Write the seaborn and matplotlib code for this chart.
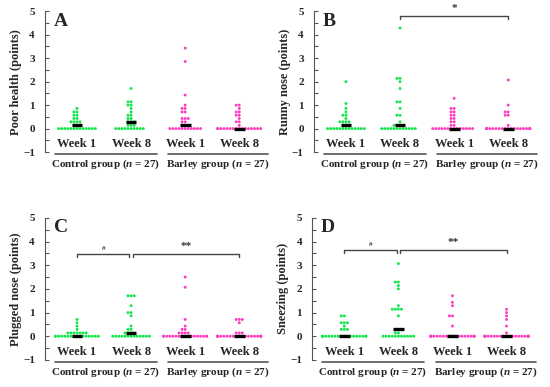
import numpy as np
import pandas as pd
import matplotlib
matplotlib.use("Agg")
import matplotlib.pyplot as plt
import seaborn as sns

sns.set_style("white")
plt.rcParams["font.family"] = ["Liberation Serif", "DejaVu Serif"]
plt.rcParams["font.weight"] = "bold"
plt.rcParams["mathtext.fontset"] = "custom"
plt.rcParams["mathtext.it"] = "Liberation Serif:italic:bold"
plt.rcParams["mathtext.rm"] = "Liberation Serif:bold"

# scores per subject (points); n = 27 per column
# A: poor health
a_ctrl_w1 = [0, 0, 0, 0, 0, 0, 0, 0, 0, 0, 0, 0, 0, 0.14, 0.14, 0.14, 0.29, 0.29, 0.29, 0.29,
             0.43, 0.43, 0.57, 0.57, 0.71, 0.71, 0.86]
a_ctrl_w8 = [0, 0, 0, 0, 0, 0, 0, 0, 0, 0, 0.14, 0.14, 0.14, 0.29, 0.29, 0.29, 0.43, 0.43,
             0.57, 0.57, 0.71, 0.86, 1.0, 1.0, 1.14, 1.14, 1.71]
a_barl_w1 = [0, 0, 0, 0, 0, 0, 0, 0, 0, 0, 0, 0.14, 0.14, 0.14, 0.29, 0.29, 0.43, 0.43, 0.43,
             0.71, 0.71, 0.86, 0.86, 1.0, 1.43, 2.86, 3.43]
a_barl_w8 = [0, 0, 0, 0, 0, 0, 0, 0, 0, 0, 0, 0, 0, 0, 0, 0, 0.14, 0.29, 0.29, 0.43,
             0.57, 0.57, 0.71, 0.71, 0.86, 1.0, 1.0]
# B: runny nose
b_ctrl_w1 = [0, 0, 0, 0, 0, 0, 0, 0, 0, 0, 0, 0, 0, 0.14, 0.14, 0.14, 0.29, 0.29, 0.29, 0.29,
             0.43, 0.57, 0.57, 0.71, 0.86, 1.07, 2.0]
b_ctrl_w8 = [0, 0, 0, 0, 0, 0, 0, 0, 0, 0, 0, 0, 0.14, 0.14, 0.14, 0.14, 0.29, 0.57, 0.57,
             0.86, 1.14, 1.14, 1.71, 2.0, 2.14, 2.14, 4.29]
b_barl_w1 = [0, 0, 0, 0, 0, 0, 0, 0, 0, 0, 0, 0, 0, 0, 0.14, 0.14, 0.29, 0.29, 0.43, 0.43,
             0.57, 0.57, 0.71, 0.71, 0.86, 0.86, 1.29]
b_barl_w8 = [0, 0, 0, 0, 0, 0, 0, 0, 0, 0, 0, 0, 0, 0, 0, 0, 0, 0, 0, 0, 0.14,
             0.57, 0.57, 0.71, 0.71, 1.0, 2.07]
# C: plugged nose
c_ctrl_w1 = [0, 0, 0, 0, 0, 0, 0, 0, 0, 0, 0, 0, 0, 0, 0, 0, 0.14, 0.14, 0.14, 0.14, 0.14,
             0.14, 0.14, 0.29, 0.43, 0.57, 0.71]
c_ctrl_w8 = [0, 0, 0, 0, 0, 0, 0, 0, 0, 0, 0, 0, 0, 0.14, 0.14, 0.14, 0.14, 0.29, 0.29,
             0.43, 0.86, 1.0, 1.0, 1.29, 1.71, 1.71, 1.71]
c_barl_w1 = [0, 0, 0, 0, 0, 0, 0, 0, 0, 0, 0, 0, 0, 0, 0, 0, 0, 0.14, 0.14, 0.14, 0.14,
             0.29, 0.29, 0.43, 0.71, 2.07, 2.5]
c_barl_w8 = [0, 0, 0, 0, 0, 0, 0, 0, 0, 0, 0, 0, 0, 0, 0, 0, 0, 0, 0, 0, 0.14, 0.14,
             0.57, 0.71, 0.71, 0.71, 0.14]
# D: sneezing
d_ctrl_w1 = [0, 0, 0, 0, 0, 0, 0, 0, 0, 0, 0, 0, 0, 0, 0, 0, 0, 0, 0.29, 0.29, 0.29, 0.43,
             0.57, 0.57, 0.57, 0.86, 0.86]
d_ctrl_w8 = [0, 0, 0, 0, 0, 0, 0, 0, 0, 0, 0, 0.14, 0.14, 0.29, 0.29, 0.29, 0.86, 1.14,
             1.14, 1.14, 1.14, 1.29, 2.0, 2.14, 2.29, 2.29, 3.07]
d_barl_w1 = [0, 0, 0, 0, 0, 0, 0, 0, 0, 0, 0, 0, 0, 0, 0, 0, 0, 0, 0, 0, 0, 0.43, 0.86,
             0.86, 1.29, 1.43, 1.71]
d_barl_w8 = [0, 0, 0, 0, 0, 0, 0, 0, 0, 0, 0, 0, 0, 0, 0, 0, 0, 0, 0, 0, 0, 0.14, 0.43,
             0.71, 0.86, 1.0, 1.14]

columns = ["ctrl_w1", "ctrl_w8", "barl_w1", "barl_w8"]
week_labels = ["Week 1", "Week 8", "Week 1", "Week 8"]
group_labels = ["Control group ($\\mathit{n}$ = 27)", "Barley group ($\\mathit{n}$ = 27)"]
palette = {"control": "#12e64a", "barley": "#ff3cc0"}

panels = [
    ("A", "Poor health (points)", [a_ctrl_w1, a_ctrl_w8, a_barl_w1, a_barl_w8], []),
    ("B", "Runny nose (points)", [b_ctrl_w1, b_ctrl_w8, b_barl_w1, b_barl_w8],
     [(1, 3, 4.8, "*")]),
    ("C", "Plugged nose (points)", [c_ctrl_w1, c_ctrl_w8, c_barl_w1, c_barl_w8],
     [(0, 0.97, 3.48, "#"), (1.03, 3, 3.48, "**")]),
    ("D", "Sneezing (points)", [d_ctrl_w1, d_ctrl_w8, d_barl_w1, d_barl_w8],
     [(0, 0.97, 3.65, "#"), (1.03, 3, 3.65, "**")]),
]

positions = [[0.081, 0.607, 0.413, 0.364], [0.570, 0.607, 0.413, 0.364],
             [0.081, 0.070, 0.413, 0.367], [0.567, 0.070, 0.413, 0.367]]

fig = plt.figure(figsize=(5.5, 3.87), dpi=100)

for (letter, ylabel, series, brackets), pos in zip(panels, positions):
    ax = fig.add_axes(pos)
    rows = []
    for col, vals in zip(columns, series):
        grp = "control" if col.startswith("ctrl") else "barley"
        for v in vals:
            rows.append({"col": col, "score": v, "group": grp})
    df = pd.DataFrame(rows)

    sns.swarmplot(data=df, x="col", y="score", hue="group", order=columns,
                  palette=palette, size=2.1, linewidth=0,
                  legend=False, warn_thresh=1, ax=ax, zorder=3)

    # median bars
    for i, vals in enumerate(series):
        ax.hlines(np.median(vals), i - 0.1, i + 0.1, color="black", lw=2.4, zorder=5)

    ax.set_xlim(-0.6, 3.6)
    ax.set_ylim(-1, 5)
    ax.set_yticks(range(-1, 6))
    ax.set_yticks(np.arange(-1, 5.01, 0.5), minor=True)
    ax.tick_params(axis="y", which="both", direction="in", length=3, width=0.8,
                   color="#555555", labelsize=8, pad=7, left=True)
    for t in ax.get_yticklabels():
        t.set_fontweight("bold")
    ax.set_xticks(range(4))
    ax.set_xticklabels(week_labels, fontsize=9, fontweight="bold")
    ax.tick_params(axis="x", length=0, pad=-10)
    ax.set_xlabel("")
    ax.set_ylabel(ylabel, fontsize=9, fontweight="bold", labelpad=1)

    for side in ["top", "right", "bottom"]:
        ax.spines[side].set_visible(False)
    ax.spines["left"].set_color("#555555")
    ax.spines["left"].set_linewidth(0.8)

    # group underlines and labels
    ax.plot([-0.41, 1.48], [-1.09, -1.09], color="#555555", lw=1.2, clip_on=False)
    ax.plot([1.69, 3.54], [-1.09, -1.09], color="#555555", lw=1.2, clip_on=False)
    ax.text(0.53, -1.52, group_labels[0], ha="center", va="center", fontsize=8,
            fontweight="bold")
    ax.text(2.61, -1.52, group_labels[1], ha="center", va="center", fontsize=8,
            fontweight="bold")

    # significance brackets
    for x1, x2, y, lab in brackets:
        ax.plot([x1, x1, x2, x2], [y - 0.12, y, y, y - 0.12], color="#444444", lw=1.0)
        fs = 5 if lab == "#" else 8
        ax.text((x1 + x2) / 2, y + 0.12, lab, ha="center", va="bottom", fontsize=fs,
                color="#333333")

    ax.text(0.04, 0.99, letter, transform=ax.transAxes, ha="left", va="top",
            fontsize=14, fontweight="bold")

fig.savefig("out.png", dpi=100)
